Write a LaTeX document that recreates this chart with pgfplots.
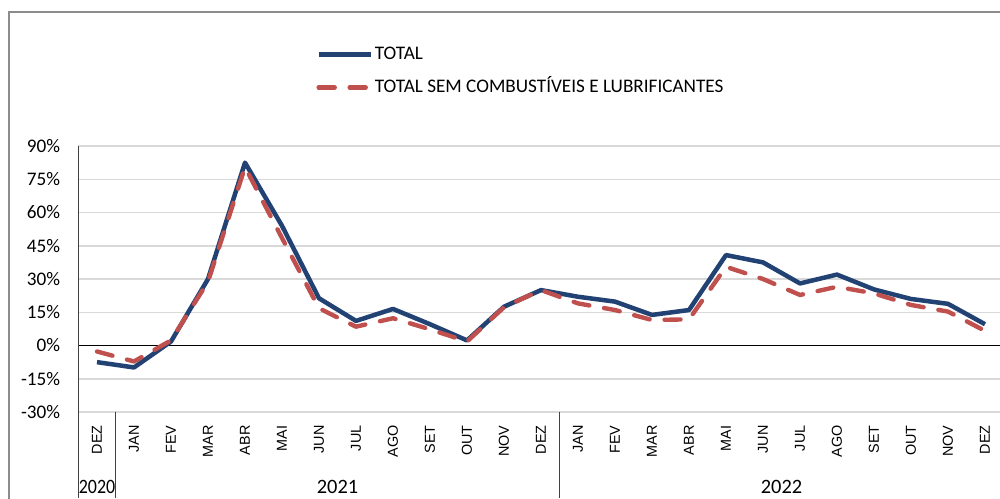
\documentclass[border=0pt]{standalone}
\usepackage{fontspec}
\setmainfont{Carlito}
\newfontfamily\monthfont{Liberation Sans}
\usepackage{graphicx}
\usepackage{pgfplots}
\pgfplotsset{compat=1.18}
\usetikzlibrary{calc}
\definecolor{totblue}{RGB}{33,66,115}
\definecolor{semred}{RGB}{192,80,77}
\definecolor{gridgray}{RGB}{217,217,217}
\definecolor{framegray}{RGB}{140,140,140}
\definecolor{axisdark}{RGB}{64,64,64}

% idx: 0 = DEZ 2020, 1..12 = 2021, 13..24 = 2022
\pgfplotstableread{
idx total semcomb
0  -7.5  -2.7
1  -9.9  -7.2
2   1.8   2.3
3  30.0  28.8
4  82.5  80.5
5  54.0  48.5
6  21.3  16.8
7  11.1   8.5
8  16.5  12.3
9   9.6   7.3
10  2.3   1.8
11 17.5  17.3
12 25.0  25.0
13 22.0  19.0
14 19.8  16.0
15 13.8  11.5
16 16.0  11.8
17 40.8  35.5
18 37.5  30.0
19 28.0  22.8
20 32.0  26.5
21 25.3  23.5
22 21.0  18.3
23 18.8  15.3
24  9.6   6.6
}\vendas

\begin{document}
\begin{tikzpicture}
\begin{axis}[
    scale only axis,
    width=462.5pt,
    height=133pt,
    xmin=-0.5, xmax=24.5,
    ymin=-30, ymax=90,
    ytick={-30,-15,...,90},
    yticklabel={\pgfmathprintnumber{\tick}\%},
    /pgf/number format/assume math mode=true,
    yticklabel style={font=\fontsize{9.6pt}{11pt}\selectfont, inner sep=0pt, xshift=-9pt},
    xtick={0,...,24},
    xticklabels={DEZ,JAN,FEV,MAR,ABR,MAI,JUN,JUL,AGO,SET,OUT,NOV,DEZ,
                 JAN,FEV,MAR,ABR,MAI,JUN,JUL,AGO,SET,OUT,NOV,DEZ},
    xticklabel style={font=\monthfont\fontsize{7.2pt}{8pt}\selectfont, rotate=90, anchor=east, inner sep=0pt},
    xticklabel shift=6.5pt,
    tick style={draw=none},
    axis line style={draw=none},
    ymajorgrids,
    grid style={gridgray, line width=0.75pt},
    clip=false,
    legend cell align=left,
    legend image code/.code={\draw[#1] (0pt,0pt) -- (26pt,0pt);},
    legend style={at={(rel axis cs:0.2503,1.282)}, anchor=west, draw=none, fill=none,
        font=\fontsize{9.6pt}{11pt}\selectfont, row sep=8.5pt,
        nodes={inner sep=0pt, text height=6.5pt, text depth=1.5pt},
        /tikz/every odd column/.style={column sep=1pt}},
]
\draw[black, line width=0.75pt] (axis cs:-0.5,0) -- (axis cs:24.5,0);

\addplot[totblue, line width=2.25pt, line join=round] table[x=idx, y=total] {\vendas};
\addlegendentry{TOTAL}
\addplot[semred, line width=2.2pt, line cap=round, line join=round, dash pattern=on 8pt off 7.5pt] table[x=idx, y=semcomb] {\vendas};
\addlegendentry{TOTAL SEM COMBUSTÍVEIS E LUBRIFICANTES}

\coordinate (O) at (rel axis cs:0,0);
\coordinate (T) at (axis cs:-0.5,90);
\coordinate (s1) at (axis cs:0.5,-30);
\coordinate (s2) at (axis cs:12.5,-30);
\coordinate (y0) at (axis cs:0,-30);
\coordinate (y1) at (axis cs:6.5,-30);
\coordinate (y2) at (axis cs:18.5,-30);
\end{axis}
\draw[axisdark, line width=0.75pt] (T) -- ($(O)+(0,-43pt)$);
\draw[axisdark, line width=0.5pt] (s1) -- ++(0,-43pt);
\draw[axisdark, line width=0.5pt] (s2) -- ++(0,-43pt);
\node[font=\fontsize{10.2pt}{11pt}\selectfont, inner sep=0pt] at ($(y0)+(0,-37.5pt)$) {\scalebox{0.88}[1]{2020}};
\node[font=\fontsize{10.2pt}{11pt}\selectfont, inner sep=0pt] at ($(y1)+(0,-37.5pt)$) {2021};
\node[font=\fontsize{10.2pt}{11pt}\selectfont, inner sep=0pt] at ($(y2)+(0,-37.5pt)$) {2022};
\draw[framegray, line width=0.75pt] ($(O)+(-34.75pt,-50pt)$) -- ($(O)+(-34.75pt,200pt)$) -- ($(O)+(470pt,200pt)$);
\pgfresetboundingbox
\path[use as bounding box] ($(O)+(-39.25pt,-43pt)$) rectangle ($(O)+(460.75pt,206pt)$);
\end{tikzpicture}
\end{document}
